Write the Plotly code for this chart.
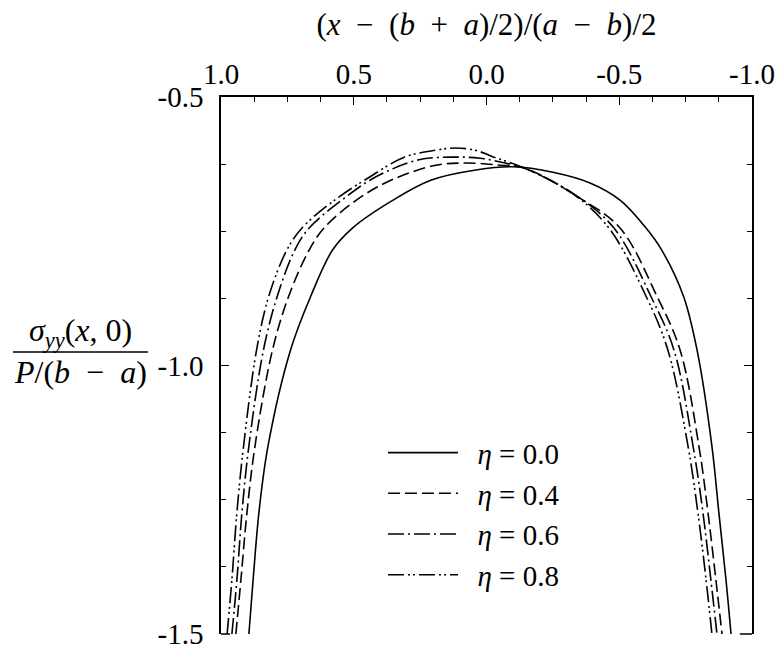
import plotly.graph_objects as go

# curves (x runs from 1.0 on the left to -1.0 on the right)
x_eta00 = [0.895, 0.879, 0.857, 0.823, 0.738, 0.662, 0.580, 0.505, 0.352, 0.210, 0.040, -0.100,
           -0.250, -0.390, -0.503, -0.601, -0.660, -0.742, -0.793, -0.849, -0.875, -0.902, -0.921]
y_eta00 = [-1.5, -1.399, -1.273, -1.150, -0.971, -0.871, -0.785, -0.744, -0.692, -0.655, -0.636, -0.630,
           -0.640, -0.660, -0.692, -0.744, -0.785, -0.871, -0.971, -1.150, -1.273, -1.399, -1.5]

x_eta04 = [0.944, 0.925, 0.902, 0.872, 0.806, 0.745, 0.668, 0.612, 0.490, 0.360, 0.190, 0.070, -0.051,
           -0.141, -0.344, -0.503, -0.642, -0.729, -0.800, -0.834, -0.864, -0.887]
y_eta04 = [-1.5, -1.399, -1.273, -1.150, -0.971, -0.871, -0.785, -0.744, -0.692, -0.655, -0.627, -0.623, -0.627,
           -0.632, -0.686, -0.744, -0.871, -0.971, -1.150, -1.273, -1.399, -1.5]

x_eta06 = [0.959, 0.940, 0.921, 0.895, 0.840, 0.788, 0.722, 0.668, 0.545, 0.418, 0.255, 0.130, 0.025, -0.070,
           -0.141, -0.333, -0.480, -0.619, -0.706, -0.778, -0.815, -0.845, -0.868]
y_eta06 = [-1.5, -1.399, -1.273, -1.150, -0.971, -0.871, -0.785, -0.744, -0.692, -0.649, -0.617, -0.612, -0.614, -0.623,
           -0.632, -0.682, -0.744, -0.871, -0.971, -1.150, -1.273, -1.399, -1.5]

x_eta08 = [0.977, 0.959, 0.940, 0.915, 0.866, 0.820, 0.752, 0.695, 0.572, 0.440, 0.310, 0.190, 0.119, 0.043, -0.028,
           -0.141, -0.322, -0.461, -0.601, -0.683, -0.759, -0.796, -0.827, -0.849]
y_eta08 = [-1.5, -1.399, -1.273, -1.150, -0.971, -0.871, -0.785, -0.744, -0.692, -0.649, -0.612, -0.599, -0.595, -0.599, -0.612,
           -0.632, -0.679, -0.744, -0.871, -0.971, -1.150, -1.273, -1.399, -1.5]

etas = ["0.0", "0.4", "0.6", "0.8"]
dashes = ["solid", "12px,5px", "16px,4px,2px,4px", "16px,4px,2px,3px,2px,4px"]

x_ticks = [1.0, 0.5, 0.0, -0.5, -1.0]
x_ticktext = ["1.0", "0.5", "0.0", "-0.5", "-1.0"]
y_ticks = [-0.5, -1.0, -1.5]
y_ticktext = ["-0.5", "-1.0", "-1.5"]

serif = "Liberation Serif, Times New Roman, serif"
sp = "&nbsp;"
sp2 = "&nbsp;&nbsp;"

# the page body adds an 8px margin, so the figure is drawn 8px smaller
# and every position below is the reference pixel minus 8
W, H = 775, 642
left, right, top, bottom = 213, 744, 89, 626

fig = go.Figure()
for xs, ys, eta, dash in zip([x_eta00, x_eta04, x_eta06, x_eta08],
                             [y_eta00, y_eta04, y_eta06, y_eta08], etas, dashes):
    fig.add_trace(go.Scatter(x=xs, y=ys, mode="lines", line_shape="spline",
                             line=dict(color="black", width=1.6, dash=dash, smoothing=1.0),
                             name=sp2 + "<i>η</i> = " + eta, legendgroup=eta))

title_txt = ("(<i>x</i>" + sp2 + "−" + sp2 + "(<i>b</i>" + sp2 + "+" + sp2 + "<i>a</i>)/2)/(<i>a</i>"
             + sp2 + "−" + sp2 + "<i>b</i>)/2")

pw = right - left
ph = bottom - top


def px(xp):
    return (xp - 8 - left) / pw


def py(yp):
    return 1 - (yp - 8 - top) / ph


fig.update_layout(
    width=W, height=H,
    margin=dict(l=left, r=W - right, t=top, b=H - bottom),
    plot_bgcolor="white", paper_bgcolor="white",
    font=dict(family=serif, size=29, color="black"),
    title=dict(text=title_txt, x=0.5, xref="paper", y=1 - 16 / H, yanchor="middle",
               font=dict(size=31)),
    showlegend=True,
    legend=dict(x=0.305, y=0.385, xanchor="left", yanchor="top", bgcolor="rgba(0,0,0,0)",
                itemwidth=70, tracegroupgap=0, font=dict(size=29)),
)

fig.update_xaxes(side="top", range=[1, -1], showgrid=False, zeroline=False, automargin=False,
                 showline=True, linecolor="black", linewidth=1.5, mirror=False,
                 ticks="inside", ticklen=8, tickcolor="black", tickwidth=1.2,
                 tickvals=x_ticks, ticktext=x_ticktext, ticklabeloverflow="allow",
                 minor=dict(dtick=0.125, tick0=0, ticks="inside", ticklen=5, tickcolor="black"))
fig.update_yaxes(range=[-1.5, -0.5], showgrid=False, zeroline=False, automargin=False,
                 showline=True, linecolor="black", linewidth=1.5, mirror="ticks",
                 ticks="inside", ticklen=8, tickcolor="black", tickwidth=1.2,
                 tickvals=y_ticks, ticktext=y_ticktext, ticklabelstandoff=10,
                 ticklabeloverflow="allow",
                 minor=dict(dtick=0.125, tick0=0, ticks="inside", ticklen=5, tickcolor="black"))

# short stubs at the bottom corners of the frame
fig.add_shape(type="line", xref="paper", yref="paper", x0=0, x1=0.017, y0=0, y1=0,
              line=dict(color="black", width=1.5))
fig.add_shape(type="line", xref="paper", yref="paper", x0=0.977, x1=1, y0=0, y1=0,
              line=dict(color="black", width=1.5))

# y label written as a fraction
fig.add_annotation(text="<i>σ<sub>yy</sub></i>(<i>x</i>," + sp + "0)", xref="paper", yref="paper",
                   x=px(80), y=py(332), showarrow=False,
                   xanchor="center", yanchor="middle", font=dict(size=32))
fig.add_annotation(text="<i>P</i>/(<i>b</i>" + sp2 + "−" + sp2 + "<i>a</i>)", xref="paper", yref="paper",
                   x=px(80), y=py(372), showarrow=False,
                   xanchor="center", yanchor="middle", font=dict(size=32))
fig.add_shape(type="line", xref="paper", yref="paper",
              x0=px(13), x1=px(148), y0=py(352), y1=py(352),
              line=dict(color="black", width=1.5))

fig.write_html("out.html")
